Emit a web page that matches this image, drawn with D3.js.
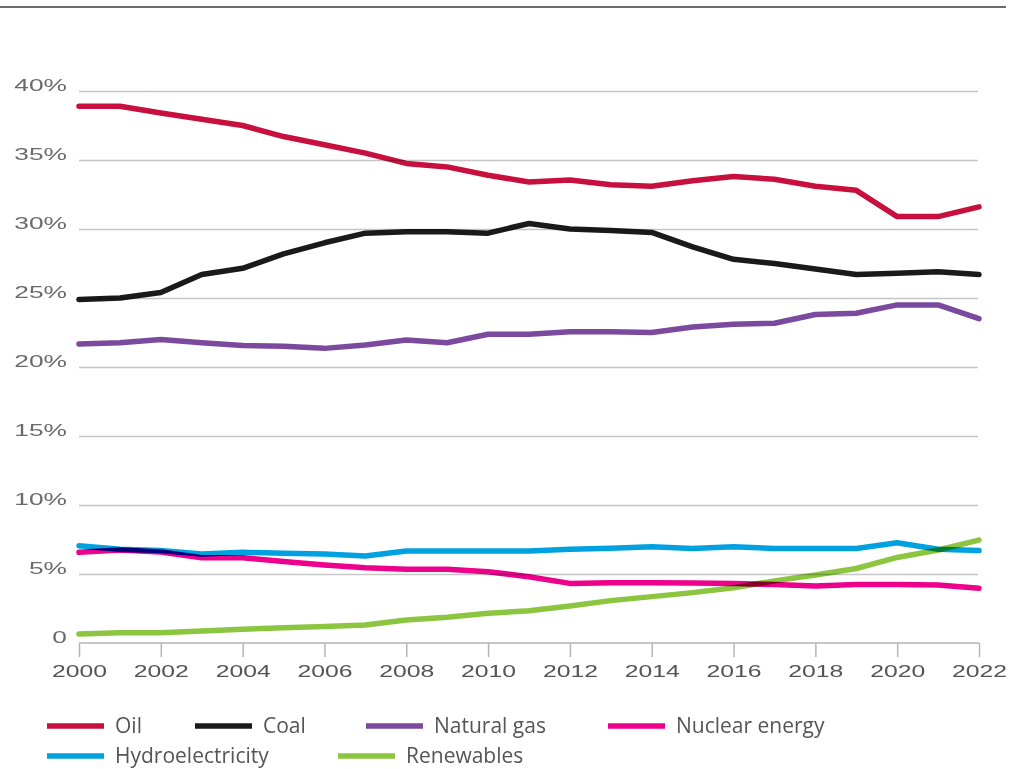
<!DOCTYPE html>
<html>
<head>
<meta charset="utf-8">
<script src="https://cdn.jsdelivr.net/npm/d3@7"></script>
<style>
  body { margin: 0; background: #fff; }
  svg { display: block; font-family: "Open Sans", sans-serif; }
</style>
</head>
<body>
<div id="chart"></div>
<script>
// years on the x axis
var years = d3.range(2000, 2023);

// share of primary energy, percent
var oil = [38.9, 38.9, 38.4, 37.95, 37.5, 36.7, 36.1, 35.5, 34.75, 34.5, 33.9, 33.4, 33.55, 33.2, 33.1, 33.5, 33.8, 33.6, 33.1, 32.8, 30.9, 30.9, 31.6];
var coal = [24.9, 25.0, 25.4, 26.7, 27.15, 28.2, 29.0, 29.7, 29.8, 29.8, 29.7, 30.4, 30.0, 29.9, 29.75, 28.7, 27.8, 27.5, 27.1, 26.7, 26.8, 26.9, 26.7];
var gas = [21.67, 21.76, 22.0, 21.76, 21.55, 21.5, 21.35, 21.6, 21.96, 21.76, 22.37, 22.37, 22.56, 22.56, 22.5, 22.9, 23.1, 23.17, 23.8, 23.9, 24.5, 24.5, 23.5];
var nuclear = [6.57, 6.74, 6.6, 6.18, 6.18, 5.9, 5.65, 5.45, 5.34, 5.34, 5.17, 4.8, 4.32, 4.37, 4.37, 4.35, 4.32, 4.24, 4.13, 4.24, 4.24, 4.2, 3.96];
var hydro = [7.05, 6.8, 6.7, 6.45, 6.57, 6.5, 6.45, 6.3, 6.67, 6.67, 6.67, 6.67, 6.8, 6.86, 6.98, 6.85, 6.98, 6.85, 6.85, 6.85, 7.27, 6.8, 6.7];
var renew = [0.65, 0.75, 0.75, 0.87, 1.0, 1.1, 1.2, 1.3, 1.67, 1.86, 2.15, 2.34, 2.68, 3.07, 3.36, 3.65, 4.0, 4.5, 4.93, 5.4, 6.2, 6.74, 7.46];

var seriesNames = ["Oil", "Coal", "Natural gas", "Nuclear energy", "Hydroelectricity", "Renewables"];
var seriesValues = [oil, coal, gas, nuclear, hydro, renew];
var seriesColors = ["#c8103e", "#1a1a1a", "#7b4a9e", "#ec008c", "#00a1e0", "#8cc540"];

var yTicks = [0, 5, 10, 15, 20, 25, 30, 35, 40];
var xTicks = d3.range(2000, 2023, 2);

var W = 1010, H = 769;
var pLeft = 79, pRight = 979, pTop = 91, pBottom = 643;

var svg = d3.select('#chart').append('svg')
  .attr('width', W)
  .attr('height', H)

// rule at the very top
svg.append('line')
  .attr('x1', 0).attr('x2', 1006)
  .attr('y1', 7).attr('y2', 7)
  .attr('stroke', '#6b6b6b')
  .attr('stroke-width', 2)

var x = d3.scaleLinear().domain([2000, 2022]).range([pLeft, pRight]);
var y = d3.scaleLinear().domain([0, 40]).range([pBottom, pTop]);

// gridlines + y labels
var yAxis = svg.append('g')
  .attr('transform', 'translate(' + pLeft + ',0)')
  .call(d3.axisLeft(y).tickValues(yTicks)
    .tickSize(-(pRight - 1 - pLeft))
    .tickFormat(function(d) { return d === 0 ? '0' : d + '%'; }))

yAxis.select('.domain').remove()
yAxis.selectAll('.tick line')
  .attr('stroke', '#c6c6c6')
  .attr('stroke-width', 1.5)
yAxis.selectAll('.tick line').filter(function(d) { return d === 0; }).remove()
yAxis.selectAll('.tick text')
  .attr('x', 0)
  .attr('dy', '-0.05em')
  .attr('fill', '#6a6a6a')
  .attr('font-size', 17)
  .attr('text-anchor', 'end')
  .attr('transform', 'translate(-12,0) scale(1.55,1)')

// x axis
var xAxis = svg.append('g')
  .attr('transform', 'translate(0,' + pBottom + ')')
  .call(d3.axisBottom(x).tickValues(xTicks).tickSize(14).tickFormat(d3.format('d')))

xAxis.select('.domain')
  .attr('stroke', '#b5b5b5')
  .attr('stroke-width', 1.5)
  .attr('d', 'M' + pLeft + ',0H' + pRight)
xAxis.selectAll('.tick line')
  .attr('stroke', '#b5b5b5')
  .attr('stroke-width', 1.5)
xAxis.selectAll('.tick text')
  .attr('y', 34)
  .attr('dy', 0)
  .attr('fill', '#555')
  .attr('font-size', 16.5)
  .attr('transform', 'scale(1.5,1)')

// lines
var line = d3.line()
  .x(function(d, i) { return x(years[i]); })
  .y(function(d) { return y(d); })

var lines = svg.append('g')
lines.selectAll('path')
  .data(seriesValues)
  .enter().append('path')
  .attr('d', line)
  .attr('fill', 'none')
  .attr('stroke', function(d, i) { return seriesColors[i]; })
  .attr('stroke-width', 5.5)
  .attr('stroke-linecap', 'round')
  .attr('stroke-linejoin', 'round')
  .style('mix-blend-mode', 'multiply')

// legend
var legendPos = [[47, 726], [195, 726], [366, 726], [608, 726], [47, 756], [338, 756]];
var legend = svg.append('g')
seriesNames.forEach(function(name, i) {
  var p = legendPos[i];
  legend.append('line')
    .attr('x1', p[0]).attr('x2', p[0] + 57)
    .attr('y1', p[1]).attr('y2', p[1])
    .attr('stroke', seriesColors[i])
    .attr('stroke-width', 5.5)
  legend.append('text')
    .attr('x', p[0] + 68)
    .attr('y', p[1] + 7)
    .attr('fill', '#555')
    .attr('font-size', 21)
    .text(name)
})
</script>
</body>
</html>
